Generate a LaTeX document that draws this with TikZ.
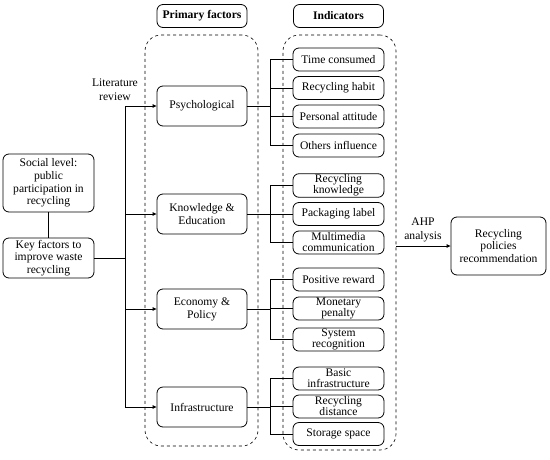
\documentclass[tikz,border=0pt]{standalone}
\usepackage{fontspec}
\setmainfont{Liberation Serif}
\usetikzlibrary{arrows.meta}

\tikzset{
  box/.style={draw, thick, rounded corners=6pt, align=center, inner sep=1pt,
    font=\fontsize{11.6}{12.8}\selectfont},
  facbox/.style={box, minimum width=90pt, minimum height=40pt},
  indbox/.style={box, minimum width=91pt, minimum height=23pt,
    font=\fontsize{11.6}{11}\selectfont},
  headbox/.style={box, minimum width=90pt, minimum height=23pt,
    font=\bfseries\fontsize{11.6}{12.8}\selectfont},
  groupbox/.style={draw, dashed, semithick, rounded corners=16pt},
  arr/.style={-{Triangle[length=4pt,width=3.5pt]}, thick},
  link/.style={thick}
}

\begin{document}
\begin{tikzpicture}[x=1pt,y=-1pt]
\useasboundingbox (0,0) rectangle (550,459);

% column headers
\node[headbox] (hprim) at (202,16) {Primary factors};
\node[headbox] (hind) at (338.5,16) {Indicators};

% dashed group frames
\node[groupbox, minimum width=113pt, minimum height=411pt] (prim) at (201.5,240.5) {};
\node[groupbox, minimum width=113pt, minimum height=415pt] (ind) at (339.5,242.5) {};

% starting point
\node[box, minimum width=91pt, minimum height=58pt] (soc) at (48.5,183)
  {Social level:\\public\\participation in\\recycling};
\node[box, minimum width=91pt, minimum height=40pt] (key) at (48.5,258)
  {Key factors to\\improve waste\\recycling};

% primary factors
\node[facbox] (psy) at (202,106) {Psychological};
\node[facbox] (know) at (202,214) {Knowledge \&\\Education};
\node[facbox] (econ) at (202,309) {Economy \&\\Policy};
\node[facbox] (infra) at (202,407) {Infrastructure};

% indicators
\foreach \nm/\yy/\txt in {tc/59.5/Time consumed, rh/88/Recycling habit,
    pa/116.5/Personal attitude, oi/145.5/Others influence,
    rk/185.5/{Recycling\\knowledge}, pl/214/Packaging label,
    mc/242.5/{Multimedia\\communication}, pr/279.5/Positive reward,
    mp/308.5/{Monetary\\penalty}, sr/339.5/{System\\recognition},
    bi/378.5/{Basic\\infrastructure}, rd/406.5/{Recycling\\distance},
    ss/434/Storage space}
  \node[indbox] (\nm) at (338.5,\yy) {\txt};

% result
\node[box, minimum width=95pt, minimum height=58pt] (rec) at (498.5,246)
  {Recycling\\policies\\recommendation};

% labels
\node[font=\fontsize{11.6}{14}\selectfont, align=center] (lit) at (115,90) {Literature\\review};
\node[font=\fontsize{11.6}{14}\selectfont, align=center] (ahp) at (423,230) {AHP\\analysis};

% trunk on the left
\coordinate (trk) at (125,0);
\draw[link] (soc) -- (key);
\draw[link] (key.east) -- (key.east -| trk);
\draw[link] (psy.west -| trk) -- (infra.west -| trk);
\foreach \p in {psy,know,econ,infra}
  \draw[arr] (\p.west -| trk) -- (\p.west);

% brackets to the indicators
\coordinate (brx) at (270,0);
\foreach \p in {psy,know,econ,infra}
  \draw[link] (\p.east) -- (\p.east -| brx);
\foreach \a/\b in {tc/oi, rk/mc, pr/sr, bi/ss}
  \draw[link] (\a.west -| brx) -- (\b.west -| brx);
\foreach \i in {tc,rh,pa,oi,rk,pl,mc,pr,mp,sr,bi,rd,ss}
  \draw[link] (\i.west) -- (\i.west -| brx);

% AHP arrow
\draw[arr] (rec.west -| ind.east) -- (rec.west);
\end{tikzpicture}
\end{document}
